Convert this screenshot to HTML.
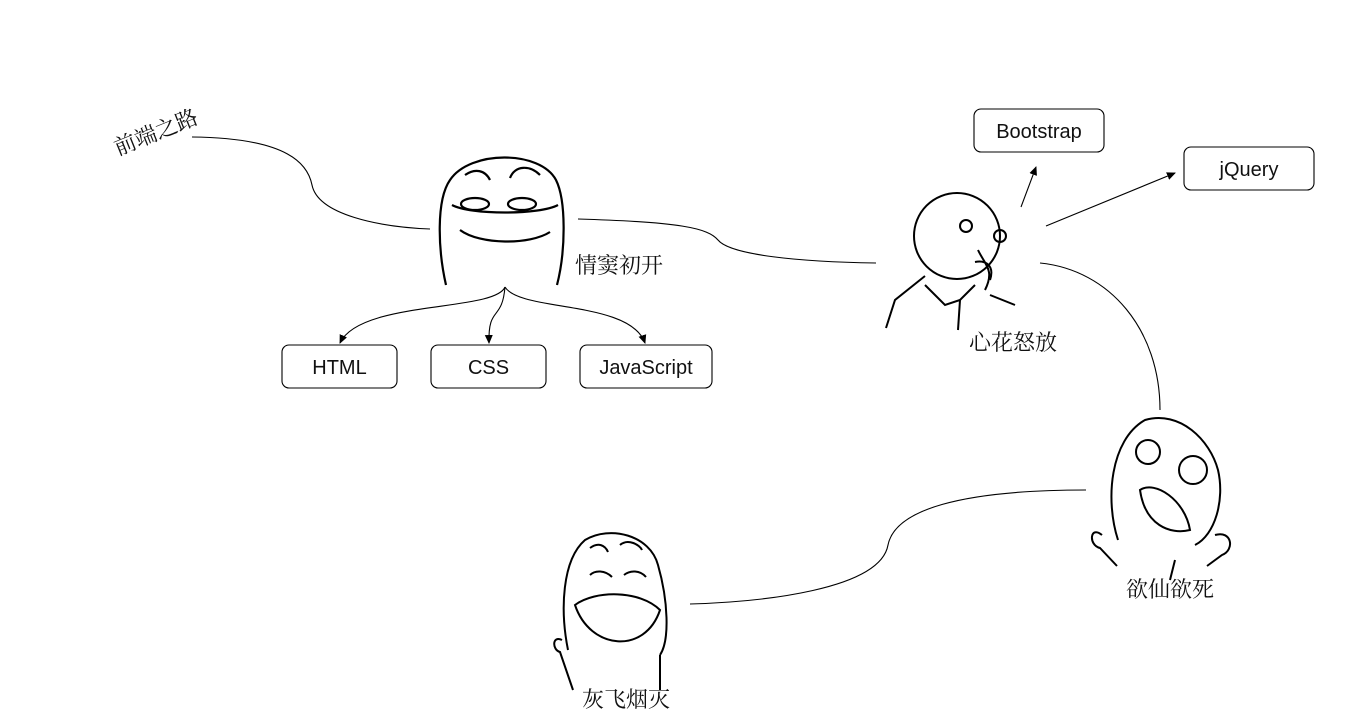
<!DOCTYPE html>
<html><head><meta charset="utf-8"><style>
html,body{margin:0;padding:0;background:#fff;}
svg{display:block}
.b{font-family:"Liberation Sans","Noto Sans CJK SC",sans-serif;font-size:20px;fill:#111}
.c{font-family:"Liberation Serif","Noto Serif CJK SC",serif;font-size:22px;fill:#111}
</style></head><body>
<svg width="1365" height="718" viewBox="0 0 1365 718" xmlns="http://www.w3.org/2000/svg">
<defs><marker id="a" markerWidth="10" markerHeight="10" refX="8" refY="5" orient="auto" markerUnits="userSpaceOnUse"><path d="M0,1 L9,5 L0,9 z" fill="#000"/></marker></defs>
<g fill="none" stroke="#000" stroke-width="1.1">
<path d="M192,137 C290,138 308,165 312,185 C318,215 380,227 430,229"/>
<path d="M578,219 C680,222 708,228 718,240 C730,255 800,262 876,263"/>
<path d="M505,287 C495,312 360,300 340,343" marker-end="url(#a)"/>
<path d="M505,287 C502,322 488,305 489,343" marker-end="url(#a)"/>
<path d="M505,287 C520,312 630,300 645,343" marker-end="url(#a)"/>
<path d="M1021,207 L1036,167" marker-end="url(#a)"/>
<path d="M1046,226 L1175,173" marker-end="url(#a)"/>
<path d="M1040,263 C1110,270 1160,330 1160,410"/>
<path d="M1086,490 C960,490 895,510 888,545 C880,590 760,602 690,604"/>
</g>
<g fill="#fff" stroke="#000" stroke-width="1.1">
<rect x="282" y="345" width="115" height="43" rx="7"/>
<rect x="431" y="345" width="115" height="43" rx="7"/>
<rect x="580" y="345" width="132" height="43" rx="7"/>
<rect x="974" y="109" width="130" height="43" rx="7"/>
<rect x="1184" y="147" width="130" height="43" rx="7"/>
</g>
<text class="b" x="339.5" y="374" text-anchor="middle">HTML</text>
<text class="b" x="488.5" y="374" text-anchor="middle">CSS</text>
<text class="b" x="646" y="374" text-anchor="middle">JavaScript</text>
<text class="b" x="1039" y="138" text-anchor="middle">Bootstrap</text>
<text class="b" x="1249" y="176" text-anchor="middle">jQuery</text>
<text class="c" x="155" y="140" text-anchor="middle" font-size="27" transform="rotate(-22 155 130)">前端之路</text>
<text class="c" x="575" y="273">情窦初开</text>
<text class="c" x="969" y="350">心花怒放</text>
<text class="c" x="1126" y="597">欲仙欲死</text>
<text class="c" x="582" y="707">灰飞烟灭</text>
<!-- face 1 -->
<g fill="none" stroke="#000" stroke-width="2.2">
<path d="M446,285 C438,250 436,200 450,180 C470,150 540,150 556,180 C566,200 566,250 557,285"/>
<path d="M452,205 C470,215 540,215 558,205"/>
<path d="M460,230 C480,245 530,245 550,232"/>
<ellipse cx="475" cy="204" rx="14" ry="6"/>
<ellipse cx="522" cy="204" rx="14" ry="6"/>
<path d="M465,175 C475,168 485,170 490,180 M510,178 C515,165 530,165 540,175"/>
</g>
<!-- face 2 -->
<g fill="none" stroke="#000" stroke-width="2">
<circle cx="957" cy="236" r="43"/>
<circle cx="966" cy="226" r="6"/><circle cx="1000" cy="236" r="6"/>
<path d="M978,250 C985,265 995,270 985,290 M975,262 C985,260 995,265 990,280"/>
<path d="M925,276 L895,300 L886,328 M925,285 L945,305 L960,300 L975,285 M960,300 L958,330 M990,295 L1015,305"/>
</g>
<!-- face 3 -->
<g fill="none" stroke="#000" stroke-width="2">
<path d="M1118,540 C1105,500 1110,440 1145,420 C1180,410 1210,440 1218,470 C1225,500 1215,535 1195,545"/>
<circle cx="1148" cy="452" r="12"/><circle cx="1193" cy="470" r="14"/>
<path d="M1140,490 C1155,480 1185,500 1190,530 C1170,535 1145,525 1140,490 z"/>
<path d="M1102,535 C1090,525 1088,545 1100,548 L1117,566 M1215,535 C1232,530 1235,550 1222,555 L1207,566 M1170,580 L1175,560"/>
</g>
<!-- face 4 -->
<g fill="none" stroke="#000" stroke-width="2">
<path d="M568,650 C560,610 562,560 585,540 C610,525 650,535 658,565 C668,600 670,640 660,655"/>
<path d="M575,605 C590,650 645,655 660,610 C640,590 595,590 575,605 z"/>
<path d="M590,575 C595,570 605,570 612,577 M624,575 C630,570 640,570 646,577"/>
<path d="M590,548 C598,542 605,545 608,552 M620,545 C628,538 640,545 642,550"/>
<path d="M562,640 C552,635 552,650 560,652 L573,690 M660,655 L660,690"/>
</g>
</svg>
</body></html>
